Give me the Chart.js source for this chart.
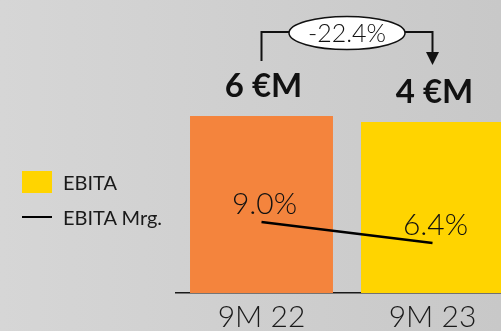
<!DOCTYPE html>
<html><head><meta charset="utf-8">
<script src="https://cdn.jsdelivr.net/npm/chart.js@4"></script>
<style>
html,body{margin:0;padding:0;width:501px;height:331px;overflow:hidden;}
body{background:linear-gradient(to right,#d6d6d6,#c8c8c8);font-family:Lato,"Noto Sans",sans-serif;position:relative;}
#wrap{position:absolute;left:0;top:0;width:518px;height:331px;}
.lg{position:absolute;left:22px;display:flex;align-items:center;font-size:20px;color:#1a1a1a;}
.sw{width:30px;height:22px;background:#ffd400;margin-right:11px;}
.ln{width:30px;height:2.5px;background:#000;margin-right:11px;}
</style></head>
<body>
<div id="wrap"><canvas id="c" width="518" height="331"></canvas></div>
<div class="lg" style="top:170px"><div class="sw"></div><span>EBITA</span></div>
<div class="lg" style="top:205px"><div class="ln"></div><span>EBITA Mrg.</span></div>
<script>
const categories = ["9M 22", "9M 23"];
const ebita = [5.76, 4.47];           // €M
const ebitaLabels = ["6 €M", "4 €M"];
const margin = [9.0, 6.4];            // %
const marginLabels = ["9.0%", "6.4%"];
const changeLabel = "-22.4%";
const barColors = ["#f4843d", "#ffd400"];
const barAxisMin = -32.3, barAxisMax = 30.7;

const labelsPlugin = {
  id: 'labels',
  afterDatasetsDraw(chart) {
    const ctx = chart.ctx;
    const bars = chart.getDatasetMeta(1).data;
    const pts = chart.getDatasetMeta(0).data;
    ctx.save();
    ctx.fillStyle = '#111';
    ctx.font = 'bold 33px Lato';
    ctx.textAlign = 'center';
    ctx.textBaseline = 'alphabetic';
    bars.forEach((b, i) => ctx.fillText(ebitaLabels[i], b.x + 2, b.y - 19));
    ctx.font = '300 30px Lato';
    pts.forEach((p, i) => ctx.fillText(marginLabels[i], p.x + 3, p.y - 8));
    const x1 = bars[0].x, x2 = bars[1].x;
    const yTop = 32, cx = (x1 + x2) / 2;
    ctx.strokeStyle = '#111';
    ctx.lineWidth = 2;
    ctx.beginPath();
    ctx.moveTo(x1, 61); ctx.lineTo(x1, yTop); ctx.lineTo(x2, yTop); ctx.lineTo(x2, 53);
    ctx.stroke();
    ctx.beginPath();
    ctx.moveTo(x2 - 6.5, 52); ctx.lineTo(x2 + 6.5, 52); ctx.lineTo(x2, 65); ctx.closePath();
    ctx.fillStyle = '#111'; ctx.fill();
    ctx.beginPath();
    ctx.ellipse(cx, 33, 58, 16.5, 0, 0, Math.PI * 2);
    ctx.fillStyle = '#fff'; ctx.fill();
    ctx.lineWidth = 1.5; ctx.stroke();
    ctx.fillStyle = '#111';
    ctx.font = '300 25px Lato';
    ctx.textBaseline = 'middle';
    ctx.fillText(changeLabel, cx, 34);
    ctx.restore();
  }
};

new Chart(document.getElementById('c'), {
  data: {
    labels: categories,
    datasets: [
      { type: 'line', label: 'EBITA Mrg.', data: margin, yAxisID: 'y2', borderColor: '#000', borderWidth: 2.5,
        pointRadius: 0, tension: 0, order: 0 },
      { type: 'bar', label: 'EBITA', data: ebita, yAxisID: 'y', backgroundColor: barColors, base: barAxisMin,
        categoryPercentage: 1, barPercentage: 0.836, order: 1 }
    ]
  },
  options: {
    responsive: false,
    animation: false,
    layout: { padding: { left: 176, right: 0, top: 0, bottom: 0 } },
    plugins: { legend: { display: false }, tooltip: { enabled: false } },
    scales: {
      x: {
        grid: { display: false, drawTicks: false },
        border: { display: true, color: '#1a1a1a', width: 1.5 },
        ticks: { color: '#1a1a1a', font: { family: 'Lato', size: 30, weight: '300' }, padding: 6, maxRotation: 0 },
        afterFit(s) { s.height = 38; }
      },
      y: { display: false, min: barAxisMin, max: barAxisMax },
      y2: { display: false, min: 0.2, max: 36.5 }
    }
  },
  plugins: [labelsPlugin]
});
</script>
</body></html>
